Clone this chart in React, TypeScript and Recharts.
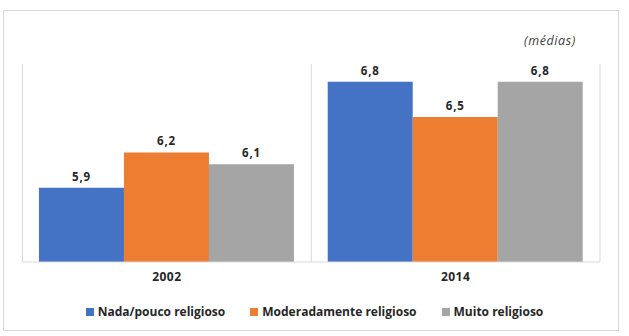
import React from 'react';
import { BarChart, Bar, XAxis, YAxis, CartesianGrid, Legend, LabelList } from 'recharts';

// Médias por grau de religiosidade
const years = ['2002', '2014'];
const nadaPouco = [5.9, 6.8];
const moderado = [6.2, 6.5];
const muito = [6.1, 6.8];

const seriesKeys = ['nada', 'moderado', 'muito'];
const seriesNames = ['Nada/pouco religioso', 'Moderadamente religioso', 'Muito religioso'];
const seriesColors = ['#4472C4', '#ED7D31', '#A5A5A5'];

const data = years.map((year, i) => ({
  year,
  nada: nadaPouco[i],
  moderado: moderado[i],
  muito: muito[i],
}));

const FONT = '"Open Sans", "Liberation Sans", sans-serif';
const GRID = '#d9d9d9';

const fmt = (v: number) => v.toFixed(1).replace('.', ',');

// Legend drawn in series order
const LegendContent = () => (
  <div
    style={{
      display: 'flex',
      justifyContent: 'center',
      alignItems: 'center',
      fontFamily: FONT,
      fontWeight: 700,
      fontSize: 12,
      color: '#262626',
    }}
  >
    {seriesNames.map((name, i) => (
      <div
        key={name}
        style={{ display: 'flex', alignItems: 'center', marginLeft: i === 0 ? 0 : 25 }}
      >
        <span
          style={{ width: 8, height: 8, background: seriesColors[i], display: 'inline-block', marginRight: 4 }}
        />
        <span>{name}</span>
      </div>
    ))}
  </div>
);

export default function App() {
  return (
    <div style={{ position: 'absolute', left: 0, top: 0, width: 629, height: 336, background: '#fff' }}>
      <div
        style={{
          position: 'absolute',
          left: 3,
          top: 10,
          width: 614,
          height: 319,
          border: `1px solid ${GRID}`,
        }}
      />
      <div
        style={{
          position: 'absolute',
          left: 524,
          top: 32,
          fontFamily: FONT,
          fontStyle: 'italic',
          fontSize: 12.5,
          letterSpacing: 0.6,
          color: '#404040',
          lineHeight: '18px',
        }}
      >
        (médias)
      </div>
      <BarChart
        width={629}
        height={336}
        data={data}
        margin={{ top: 64, right: 29, bottom: 54, left: 22.5 }}
        barCategoryGap="5.7%"
        barGap={0}
        style={{ position: 'absolute', left: 0, top: 0 }}
      >
        <CartesianGrid
          horizontal={false}
          stroke={GRID}
          verticalCoordinatesGenerator={({ offset }: any) => [
            offset.left,
            offset.left + offset.width / 2,
            offset.left + offset.width,
          ]}
        />
        <XAxis
          dataKey="year"
          height={20}
          tickLine={false}
          tickSize={0}
          tickMargin={10}
          axisLine={{ stroke: GRID }}
          tick={{ fontFamily: FONT, fontWeight: 700, fontSize: 12, fill: '#262626', letterSpacing: 0.4 }}
        />
        <YAxis hide domain={[5.27, 6.95]} allowDataOverflow />
        <Legend
          layout="horizontal"
          verticalAlign="middle"
          align="center"
          content={<LegendContent />}
          wrapperStyle={{ top: 303, left: 0, width: 629 }}
        />
        {seriesKeys.map((k, i) => (
          <Bar key={k} dataKey={k} name={seriesNames[i]} fill={seriesColors[i]} isAnimationActive={false}>
            <LabelList
              dataKey={k}
              position="top"
              offset={7}
              formatter={(v: any) => fmt(Number(v))}
              style={{ fontFamily: FONT, fontWeight: 700, fontSize: 11.5, fill: '#262626', letterSpacing: 0.8 }}
            />
          </Bar>
        ))}
      </BarChart>
    </div>
  );
}
